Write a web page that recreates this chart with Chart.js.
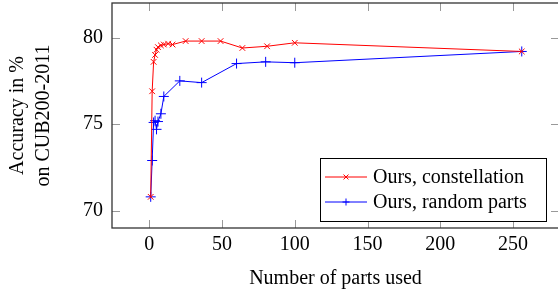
<!DOCTYPE html>
<html>
<head>
<meta charset="utf-8">
<script src="https://cdn.jsdelivr.net/npm/chart.js@4/dist/chart.umd.min.js"></script>
<style>
html, body { margin: 0; padding: 0; background: #fff; }
#wrap { width: 558px; height: 291px; overflow: hidden; }
#box { width: 562px; height: 291px; position: relative; }
</style>
</head>
<body>
<div id="wrap"><div id="box"><canvas id="chart"></canvas></div></div>
<script>
// data
const constellationParts = [1, 2, 3, 4, 5, 6, 8, 10, 13, 16, 25, 36, 49, 64, 81, 100, 256];
const constellationAcc   = [70.8, 76.9, 78.6, 79.0, 79.3, 79.45, 79.55, 79.6, 79.65, 79.6, 79.8, 79.8, 79.8, 79.4, 79.5, 79.7, 79.2];
const randomParts = [1, 2, 3, 4, 5, 6, 8, 10, 21, 36, 60, 80, 100, 256];
const randomAcc   = [70.8, 72.9, 75.1, 75.2, 74.7, 75.15, 75.6, 76.6, 77.5, 77.4, 78.5, 78.6, 78.55, 79.2];
const seriesLabels = ['Ours, constellation', 'Ours, random parts'];
const xTicks = [0, 50, 100, 150, 200, 250];
const yTicks = [70, 75, 80];

const serif = "'Liberation Serif', 'DejaVu Serif', serif";

function toPoints(xs, ys) {
    return xs.map((x, i) => ({ x: x, y: ys[i] }));
}

// inner tick marks + frame, like pgfplots
const framePlugin = {
    id: 'frame',
    afterDatasetsDraw(chart) {
        const ctx = chart.ctx;
        const a = chart.chartArea;
        const xs = chart.scales.x, ys = chart.scales.y;
        const len = 8;
        ctx.save();
        ctx.strokeStyle = '#999';
        ctx.lineWidth = 1;
        ctx.beginPath();
        xTicks.forEach(v => {
            const px = Math.round(xs.getPixelForValue(v)) + 0.5;
            ctx.moveTo(px, a.bottom); ctx.lineTo(px, a.bottom - len);
            ctx.moveTo(px, a.top); ctx.lineTo(px, a.top + len);
        });
        yTicks.forEach(v => {
            const py = Math.round(ys.getPixelForValue(v)) + 0.5;
            ctx.moveTo(a.left, py); ctx.lineTo(a.left + len, py);
            ctx.moveTo(a.right, py); ctx.lineTo(a.right - len, py);
        });
        ctx.stroke();
        ctx.strokeStyle = '#333';
        ctx.lineWidth = 1.3;
        ctx.strokeRect(a.left, a.top, a.right - a.left, a.bottom - a.top);
        ctx.restore();
    }
};

// boxed legend in the lower right corner
const boxLegend = {
    id: 'boxLegend',
    afterDraw(chart) {
        const ctx = chart.ctx;
        const a = chart.chartArea;
        const w = 226, h = 63;
        const x0 = 320;
        const y0 = a.bottom - 7 - h;
        ctx.save();
        ctx.fillStyle = '#fff';
        ctx.fillRect(x0, y0, w, h);
        ctx.strokeStyle = '#000';
        ctx.lineWidth = 1;
        ctx.strokeRect(x0 + 0.5, y0 + 0.5, w, h);
        ctx.font = '20px ' + serif;
        ctx.textBaseline = 'middle';
        chart.data.datasets.forEach((ds, i) => {
            const cy = y0 + 19 + i * 25;
            ctx.strokeStyle = ds.borderColor;
            ctx.lineWidth = 1;
            ctx.beginPath();
            ctx.moveTo(x0 + 5, cy); ctx.lineTo(x0 + 47, cy);
            ctx.stroke();
            Chart.helpers.drawPoint(ctx, {
                pointStyle: ds.pointStyle, radius: 3.5, borderWidth: 1, rotation: 0
            }, x0 + 26, cy);
            ctx.fillStyle = '#000';
            ctx.fillText(ds.label, x0 + 53, cy + 1);
        });
        ctx.restore();
    }
};

new Chart(document.getElementById('chart'), {
    type: 'line',
    data: {
        datasets: [{
            label: seriesLabels[0],
            data: toPoints(constellationParts, constellationAcc),
            borderColor: '#ff0000',
            backgroundColor: '#ff0000',
            borderWidth: 1,
            pointStyle: 'crossRot',
            pointRadius: 4,
            pointBorderWidth: 1,
            tension: 0
        }, {
            label: seriesLabels[1],
            data: toPoints(randomParts, randomAcc),
            borderColor: '#0000ff',
            backgroundColor: '#0000ff',
            borderWidth: 1,
            pointStyle: 'cross',
            pointRadius: 5,
            pointBorderWidth: 1,
            tension: 0
        }]
    },
    options: {
        responsive: true,
        maintainAspectRatio: false,
        animation: false,
        devicePixelRatio: 1,
        layout: { autoPadding: false, padding: { top: 3, right: 3, left: 0, bottom: 0 } },
        plugins: {
            legend: { display: false },
            tooltip: { enabled: false }
        },
        scales: {
            x: {
                type: 'linear',
                min: -25.6,
                max: 281.6,
                afterBuildTicks: s => { s.ticks = xTicks.map(v => ({ value: v })); },
                afterFit: s => { s.height = 63; s.paddingLeft = 0; s.paddingRight = 0; },
                grid: { display: false, drawTicks: false },
                border: { display: false },
                ticks: { padding: 5, color: '#000', font: { family: serif, size: 20 } },
                title: {
                    display: true,
                    text: 'Number of parts used',
                    color: '#000',
                    font: { family: serif, size: 20, lineHeight: 1.2 },
                    padding: { top: 0, bottom: 0 }
                }
            },
            y: {
                min: 69,
                max: 82,
                afterBuildTicks: s => { s.ticks = yTicks.map(v => ({ value: v })); },
                afterFit: s => { s.width = 112; s.paddingTop = 0; s.paddingBottom = 0; },
                grid: { display: false, drawTicks: false },
                border: { display: false },
                ticks: { padding: 9, color: '#000', font: { family: serif, size: 20 } },
                title: {
                    display: true,
                    text: ['Accuracy in %', 'on CUB200-2011'],
                    color: '#000',
                    font: { family: serif, size: 20, lineHeight: 1.3 },
                    padding: { top: 5, bottom: 0 }
                }
            }
        }
    },
    plugins: [framePlugin, boxLegend]
});
</script>
</body>
</html>
